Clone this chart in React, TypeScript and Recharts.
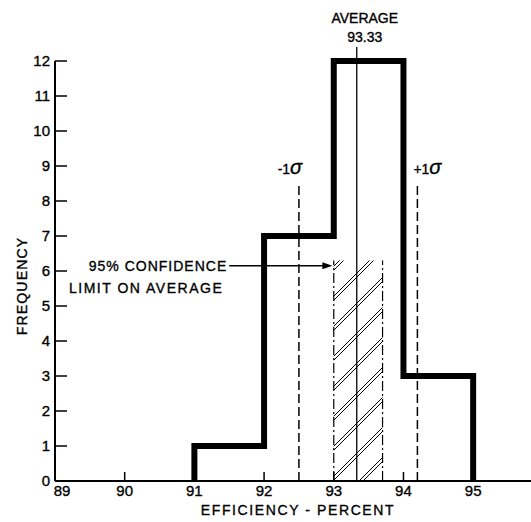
import { LineChart, Line, XAxis, YAxis, ReferenceLine, ReferenceArea } from 'recharts';

// histogram bins (efficiency %) and counts
const BIN_EDGES = [91, 92, 93, 94, 95];
const FREQUENCIES = [1, 7, 12, 3];
const X_TICKS = [89, 90, 91, 92, 93, 94, 95];
const Y_TICKS = [0, 1, 2, 3, 4, 5, 6, 7, 8, 9, 10, 11, 12];

const AVERAGE = 93.33;
const SIGMA_LOW = 92.5;
const SIGMA_HIGH = 94.2;
const CONF_LOW = 93.0;
const CONF_HIGH = 93.7;
const CONF_TOP = 6.3;
const SIGMA_TOP = 8.5;
const AVG_TOP = 12.4;
const ARROW_Y = 6.15;
const ARROW_FROM = 91.5;

const FONT = '"Liberation Sans", Arial, sans-serif';
const INK = '#000';

// open-bottom outline of the histogram
const outline: { x: number; y: number }[] = [{ x: BIN_EDGES[0], y: 0 }];
FREQUENCIES.forEach((f, i) => {
  outline.push({ x: BIN_EDGES[i], y: f });
  outline.push({ x: BIN_EDGES[i + 1], y: f });
});
outline.push({ x: BIN_EDGES[BIN_EDGES.length - 1], y: 0 });

const txt = { fontFamily: FONT, fill: INK, stroke: INK, strokeWidth: 0.35 } as const;

function XTick({ x, y, payload }: any) {
  return (
    <g>
      <line x1={x} x2={x} y1={y} y2={y - 9} stroke={INK} strokeWidth={1.5} />
      <text x={payload.value === 89 ? x + 7 : x} y={y + 15} textAnchor="middle"
        fontSize={15} {...txt}>{payload.value}</text>
    </g>
  );
}

function YTick({ x, y, payload }: any) {
  return (
    <g>
      <line x1={x} x2={x + 12} y1={y} y2={y} stroke={INK} strokeWidth={1.5} />
      <text x={x - 5} y={y} dy="0.35em" textAnchor="end"
        fontSize={15} {...txt}>{payload.value}</text>
    </g>
  );
}

function Arrow(props: any) {
  const { x1, y1, x2, y2 } = props;
  return (
    <g>
      <line x1={x1} y1={y1} x2={x2 - 8} y2={y2} stroke={INK} strokeWidth={1.4} />
      <polygon points={`${x2},${y2} ${x2 - 10},${y2 - 3.5} ${x2 - 10},${y2 + 3.5}`} fill={INK} />
    </g>
  );
}

export default function App() {
  return (
    <div style={{ position: 'absolute', left: 0, top: 0, background: '#fff' }}>
      <LineChart width={531} height={522} data={outline}
        margin={{ top: 61, right: 0, bottom: 40, left: 54 }}>
        <defs>
          <pattern id="hatch" patternUnits="userSpaceOnUse" width={30} height={30}>
            {[0, 4, 30, 34, 60].map(c => (
              <line key={c} x1={-5} y1={c + 5} x2={c + 5} y2={-5} stroke={INK} strokeWidth={1} />
            ))}
          </pattern>
        </defs>
        <XAxis type="number" dataKey="x" domain={[89, 95.83]} ticks={X_TICKS}
          allowDataOverflow height={1} tickSize={0} tickMargin={0} tick={<XTick />}
          axisLine={{ stroke: INK, strokeWidth: 2 }} tickLine={false}
          label={{
            content: ({ viewBox }: any) => (
              <text x={viewBox.x + 243} y={viewBox.y + 34} textAnchor="middle"
                fontSize={14} letterSpacing={1.6} {...txt}>EFFICIENCY - PERCENT</text>
            ),
          }} />
        <YAxis type="number" domain={[0, 12]} ticks={Y_TICKS} width={1}
          tickSize={0} tickMargin={0} tick={<YTick />}
          axisLine={{ stroke: INK, strokeWidth: 2 }} tickLine={false}
          label={{
            content: () => (
              <text x={27} y={286} transform="rotate(-90 27 286)" textAnchor="middle"
                fontSize={14} letterSpacing={1.2} {...txt}>FREQUENCY</text>
            ),
          }} />

        <ReferenceArea x1={CONF_LOW} x2={CONF_HIGH} y1={0} y2={CONF_TOP}
          fill="url(#hatch)" fillOpacity={1} stroke="none" ifOverflow="visible" />
        <ReferenceLine segment={[{ x: CONF_LOW, y: 0 }, { x: CONF_LOW, y: CONF_TOP }]}
          stroke={INK} strokeWidth={1.2} strokeDasharray="10 3 2 3" ifOverflow="visible" />
        <ReferenceLine segment={[{ x: CONF_HIGH, y: 0 }, { x: CONF_HIGH, y: CONF_TOP }]}
          stroke={INK} strokeWidth={1.2} strokeDasharray="10 3 2 3" ifOverflow="visible" />

        <ReferenceLine segment={[{ x: SIGMA_LOW, y: 0 }, { x: SIGMA_LOW, y: SIGMA_TOP }]}
          stroke={INK} strokeWidth={1.5} strokeDasharray="9 4" ifOverflow="visible"
          label={{
            content: ({ viewBox }: any) => (
              <text x={viewBox.x - 9} y={viewBox.y - 10} textAnchor="middle" {...txt}>
                <tspan fontSize={14}>-1</tspan><tspan fontSize={20} fontStyle="italic">σ</tspan>
              </text>
            ),
          }} />
        <ReferenceLine segment={[{ x: SIGMA_HIGH, y: 0 }, { x: SIGMA_HIGH, y: SIGMA_TOP }]}
          stroke={INK} strokeWidth={1.5} strokeDasharray="9 4" ifOverflow="visible"
          label={{
            content: ({ viewBox }: any) => (
              <text x={viewBox.x + 10} y={viewBox.y - 10} textAnchor="middle" {...txt}>
                <tspan fontSize={14}>+1</tspan><tspan fontSize={20} fontStyle="italic">σ</tspan>
              </text>
            ),
          }} />

        <ReferenceLine segment={[{ x: AVERAGE, y: 0 }, { x: AVERAGE, y: AVG_TOP }]}
          stroke={INK} strokeWidth={1.3} ifOverflow="visible"
          label={{
            content: ({ viewBox }: any) => (
              <g>
                <text x={viewBox.x + 8} y={23} textAnchor="middle" fontSize={14} {...txt}>AVERAGE</text>
                <text x={viewBox.x + 8} y={42} textAnchor="middle" fontSize={14} {...txt}>{AVERAGE.toFixed(2)}</text>
              </g>
            ),
          }} />

        <ReferenceLine segment={[{ x: ARROW_FROM, y: ARROW_Y }, { x: CONF_LOW - 0.02, y: ARROW_Y }]}
          ifOverflow="visible" shape={Arrow}
          label={{
            content: ({ viewBox }: any) => (
              <g>
                <text x={viewBox.x - 2} y={viewBox.y + 5} textAnchor="end" fontSize={14}
                  letterSpacing={1} {...txt}>95% CONFIDENCE</text>
                <text x={viewBox.x - 6} y={viewBox.y + 27} textAnchor="end" fontSize={14}
                  letterSpacing={1.5} {...txt}>LIMIT ON AVERAGE</text>
              </g>
            ),
          }} />

        <Line type="linear" dataKey="y" stroke={INK} strokeWidth={6} dot={false}
          strokeLinejoin="miter" isAnimationActive={false} />
      </LineChart>
    </div>
  );
}
